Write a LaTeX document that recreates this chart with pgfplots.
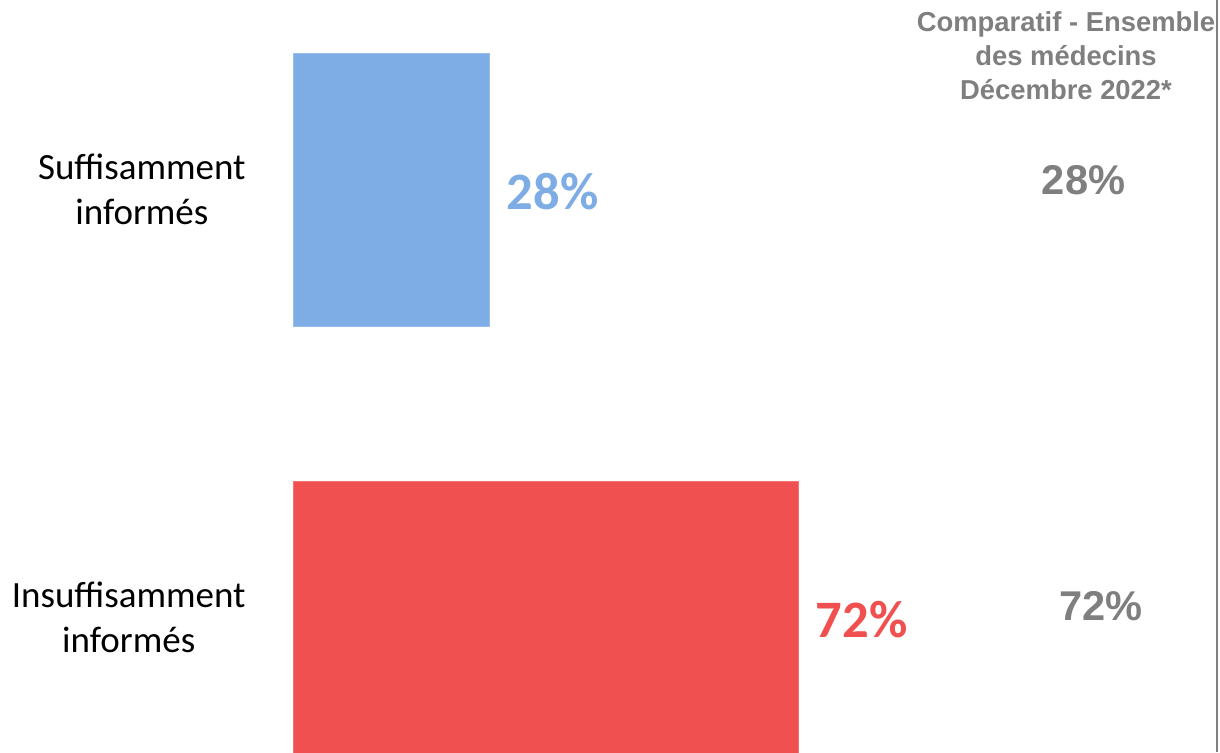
\documentclass[border=0pt]{standalone}
\usepackage{pgfplots}
\usepackage{pgfplotstable}
\pgfplotsset{compat=1.18}
\usepackage{fontspec}
\setmainfont{Carlito}
\newfontfamily\arialf{Liberation Sans}
\definecolor{barblue}{HTML}{7EADE5}
\definecolor{barred}{HTML}{F05050}
\definecolor{txtgray}{HTML}{7F7F7F}
\definecolor{linegray}{HTML}{808080}
\pgfplotstableread{
val y
28 1
}\tblA
\pgfplotstableread{
val y
72 0
}\tblB
\begin{document}
\begin{tikzpicture}
\begin{axis}[
  scale only axis, width=462pt, height=376pt,
  xmin=0, xmax=131.6, ymin=-0.3143, ymax=1.4428,
  axis x line=none, axis y line=left,
  axis line style={draw=none},
  xtick=\empty,
  ytick={0,1},
  yticklabels={Insuffisamment\\informés, Suffisamment\\informés},
  major tick length=0pt,
  ytick style={draw=none},
  yticklabel style={inner sep=0pt, align=center, anchor=east,
     font=\fontsize{18.5}{22.5}\selectfont, xshift=-23.5pt},
  /pgf/number format/assume math mode=true,
  xbar, bar width=136.5pt,
  clip mode=individual,
  nodes near coords={\pgfmathprintnumber{\pgfplotspointmeta}\%},
  point meta=x,
  every node near coord/.append style={anchor=west, inner sep=0pt, xshift=8.5pt,
     yshift=-1.2pt, font=\bfseries\fontsize{26.3}{30}\selectfont},
]
\addplot[fill=barblue, draw=barblue!80!white, bar shift=0pt,
  every node near coord/.append style={text=barblue}] table[x=val, y=y] {\tblA};
\addplot[fill=barred, draw=barred!80!white, bar shift=0pt,
  every node near coord/.append style={text=barred}] table[x=val, y=y] {\tblB};
\node[font=\arialf\bfseries\fontsize{13.7}{17}\selectfont, text=txtgray, align=center]
  at (axis cs:110.1,1.312) {Comparatif - Ensemble\\des médecins\\Décembre 2022*};
\node[font=\arialf\bfseries\fontsize{20.8}{24}\selectfont, text=txtgray]
  at (axis cs:112.6,1.022) {28\%};
\node[font=\arialf\bfseries\fontsize{20.8}{24}\selectfont, text=txtgray]
  at (axis cs:115.1,0.027) {72\%};
\end{axis}
\draw[linegray, line width=1pt] (461.8pt,0) -- (461.8pt,376pt);
\pgfresetboundingbox
\path[use as bounding box] (-146.5pt,0) rectangle (463.5pt,376pt);
\end{tikzpicture}
\end{document}
